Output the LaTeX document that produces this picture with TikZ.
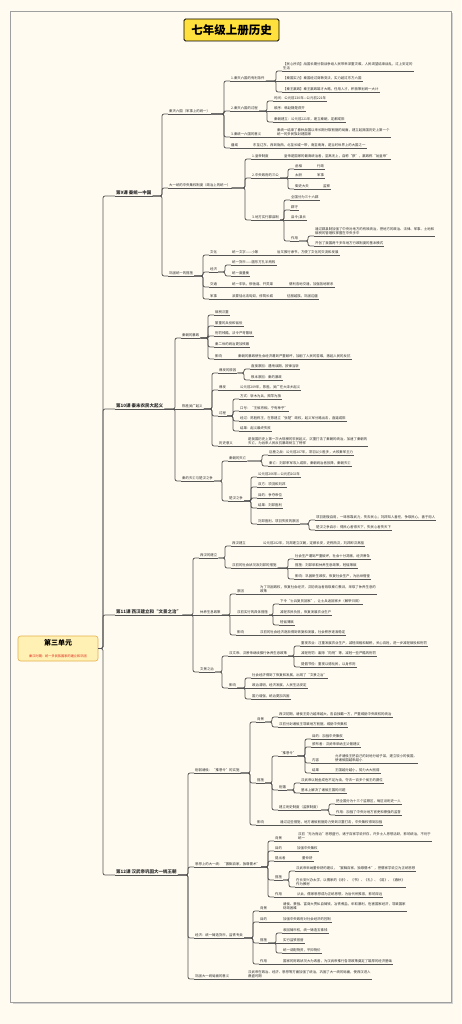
\documentclass[tikz,border=0pt]{standalone}
\usepackage{fontspec}
\newfontfamily\cjk{Noto Sans CJK SC}
\definecolor{bgc}{HTML}{FFFBF1}
\definecolor{lnc}{HTML}{555555}
\definecolor{txt}{HTML}{2E2E2E}
\definecolor{ttl}{HTML}{FFE03C}
\definecolor{rootf}{HTML}{FFF0B3}
\definecolor{rootd}{HTML}{E3B04B}
\definecolor{redt}{HTML}{E0281E}
\tikzset{
  ul/.style={draw=lnc, line width=0.75pt},
  conn/.style={draw=lnc, line width=0.75pt, rounded corners=2pt},
  n/.style={anchor=south west, inner xsep=1pt, inner ysep=0.7pt, text=txt, align=left,
    font=\cjk\fontsize{3.4}{4.4}\selectfont,
    append after command={(\tikzlastnode.south west) edge[ul] (\tikzlastnode.south east)}},
  chap/.style={n, font=\cjk\bfseries\fontsize{4.5}{5.5}\selectfont},
}
\newcommand\lk[2]{\draw[conn] (#1.south east) -| ([xshift=-6pt]#2.south west) -- (#2.south west);}
\newcommand\sk[2]{\draw[conn] (#1.south east) -- (#2.south west);}
\newcommand\rk[1]{\draw[conn] (root.east) -| ([xshift=-12pt]#1.south west) -- (#1.south west);}
\begin{document}
\begin{tikzpicture}[x=1pt,y=-1pt]
\useasboundingbox (0,0) rectangle (461,1024);
\fill[bgc] (0,0) rectangle (461,1024);
\draw[gray!35, line width=1.2pt] (12.5,1003.5) -- (452.5,1003.5) -- (452.5,13.5);
\draw[gray!75, line width=0.9pt] (10,11) rectangle (451,1002);

\node[draw=black, line width=0.8pt, fill=ttl, rounded corners=1.5pt, minimum width=95pt, minimum height=22pt, inner sep=0pt, font=\cjk\bfseries\fontsize{11.5}{12}\selectfont] (title) at (231.5,30) {七年级上册历史};

\node[draw=rootd, fill=rootf, line width=0.6pt, rounded corners=2.5pt, minimum width=80pt, minimum height=25pt, inner sep=1pt, align=center] (root) at (58,648.5) {{\cjk\bfseries\fontsize{7}{8.5}\selectfont 第三单元}\\[0.5pt]{\cjk\fontsize{3.2}{4}\selectfont\color{redt}秦汉时期：统一多民族国家的建立和巩固}};

% chapters
\node[chap] (c9) at (115,196) {第9课 秦统一中国};
\node[chap] (c10) at (115,409) {第10课 秦末农民大起义};
\node[chap] (c11) at (115,615) {第11课 西汉建立和“文景之治”};
\node[chap] (c12) at (115,875) {第12课 汉武帝巩固大一统王朝};

% ---------- chapter 9
\node[n] (a1) at (168,114) {秦灭六国（军事上的统一）};
\node[n] (a1a) at (230,81) {1.秦灭六国的有利条件};
\node[n] (a1a1) at (282,71) {【民心所向】战国长期分裂战争给人民带来深重灾难，人民渴望结束战乱，过上安定的\\生活};
\node[n] (a1a2) at (282,81) {【秦国实力】秦国经过商鞅变法，实力超过东方六国};
\node[n] (a1a3) at (282,92) {【秦王嬴政】秦王嬴政雄才大略，任用人才，积极策划统一大计};
\node[n] (a1b) at (230,111) {2.秦灭六国的过程};
\node[n] (a1b1) at (273,101) {时间：公元前230年—公元前221年};
\node[n] (a1b2) at (273,111) {顺序：韩赵魏楚燕齐};
\node[n] (a1b3) at (273,122) {秦朝建立：公元前221年，建立秦朝，定都咸阳};
\node[n] (a1c) at (230,137) {3.秦统一六国的意义};
\node[n] (a1c1) at (276,137) {秦统一结束了春秋战国以来长期分裂割据的局面，建立起我国历史上第一个\\统一的多民族封建国家};
\node[n] (a1d) at (230,148) {疆域};
\node[n] (a1d1) at (252,148) {东至辽东，西到陇西，北至长城一带，南至南海，是当时世界上的大国之一};

\node[n] (a2) at (168,188) {大一统的中央集权制度（政治上的统一）};
\node[n] (a2a) at (251,159) {1.皇帝制度};
\node[n] (a2a1) at (283,159) {皇帝是国家的最高统治者，至高无上，自称“朕”，嬴政称“始皇帝”};
\node[n] (a2b) at (251,178) {2.中央政府的三公};
\node[n] (a2b1) at (294,169) {丞相};
\node[n] (a2b1x) at (316,169) {行政};
\node[n] (a2b2) at (294,178) {太尉};
\node[n] (a2b2x) at (316,178) {军事};
\node[n] (a2b3) at (294,189) {御史大夫};
\node[n] (a2b3x) at (322,189) {监察};
\node[n] (a2c) at (251,220) {3.地方实行郡县制};
\node[n] (a2c1) at (290,200) {全国分为三十六郡};
\node[n] (a2c2) at (290,210) {郡守};
\node[n] (a2c3) at (290,220) {县令/县长};
\node[n] (a2c4) at (290,241) {作用};
\node[n] (a2c41) at (314,236) {通过郡县制加强了中央对地方的有效统治，把地方的政治、法律、军事、土地和\\赋税的管理权掌握在中央手中};
\node[n] (a2c42) at (314,246) {开创了我国两千多年地方行政制度的基本模式};

\node[n] (a3) at (168,276) {巩固统一的措施};
\node[n] (a3a) at (209,255) {文化};
\node[n] (a3a1) at (231,255) {统一文字——小篆};
\node[n] (a3a2) at (276,255) {后又推行隶书，方便了文化的交流和发展};
\node[n] (a3b) at (209,272) {经济};
\node[n] (a3b1) at (231,265) {统一货币——圆形方孔半两钱};
\node[n] (a3b2) at (231,276) {统一度量衡};
\node[n] (a3c) at (209,287) {交通};
\node[n] (a3c1) at (231,287) {统一车轨，修驰道、开灵渠};
\node[n] (a3c2) at (288,287) {便利各地交通，加强各地联系};
\node[n] (a3d) at (209,299) {军事};
\node[n] (a3d1) at (231,299) {派蒙恬北击匈奴，修筑长城};
\node[n] (a3d2) at (286,299) {征服越族，巩固边疆};

% ---------- chapter 10
\node[n] (b1) at (181,338) {秦朝的暴政};
\node[n] (b1a) at (214,315) {赋税沉重};
\node[n] (b1b) at (214,326) {繁重的兵役和徭役};
\node[n] (b1c) at (214,336) {刑罚残酷，法令严苛繁琐};
\node[n] (b1d) at (214,347) {秦二世的统治更加残暴};
\node[n] (b1e) at (214,359) {影响};
\node[n] (b1e1) at (237,359) {秦朝的暴政使社会经济遭到严重破坏，加剧了人民的苦难，激起人民的反抗};

\node[n] (b2) at (181,409) {陈胜吴广起义};
\node[n] (b2a) at (218,373) {爆发的原因};
\node[n] (b2a1) at (250,369) {直接原因：遇雨误期，按律当斩};
\node[n] (b2a2) at (250,380) {根本原因：秦的暴政};
\node[n] (b2b) at (218,390) {爆发};
\node[n] (b2b1) at (239,390) {公元前209年，陈胜、吴广在大泽乡起义};
\node[n] (b2c) at (218,416) {过程};
\node[n] (b2c1) at (239,399) {方式：斩木为兵，揭竿为旗};
\node[n] (b2c2) at (239,411) {口号：“王侯将相，宁有种乎”};
\node[n] (b2c3) at (239,421) {经过：陈胜称王，在陈建立“张楚”政权，起义军分路出击，直逼咸阳};
\node[n] (b2c4) at (239,431) {结果：起义最终失败};
\node[n] (b2d) at (218,446) {历史意义};
\node[n] (b2d1) at (247,446) {是我国历史上第一次大规模的农民起义，沉重打击了秦朝的统治，加速了秦朝的\\灭亡，为后来人民反抗暴政树立了榜样};

\node[n] (b3) at (181,481) {秦的灭亡与楚汉之争};
\node[n] (b3a) at (228,461) {秦朝的灭亡};
\node[n] (b3a1) at (268,455) {巨鹿之战：公元前207年，项羽以少胜多，大败秦军主力};
\node[n] (b3a2) at (268,466) {秦亡：刘邦率军攻入咸阳，秦朝统治者投降，秦朝灭亡};
\node[n] (b3b) at (228,501) {楚汉之争};
\node[n] (b3b1) at (257,477) {公元前206年—公元前202年};
\node[n] (b3b2) at (257,487) {双方：项羽和刘邦};
\node[n] (b3b3) at (257,498) {目的：争夺帝位};
\node[n] (b3b4) at (257,508) {结果：刘邦胜利};
\node[n] (b3b5) at (257,524) {刘邦胜利、项羽失败的原因};
\node[n] (b3b51) at (315,520) {项羽刚愎自用，一味依靠武力，失去民心；刘邦知人善任，争取民心，善于用人};
\node[n] (b3b52) at (315,530) {楚汉之争启示：得民心者得天下，失民心者失天下};

% ---------- chapter 11
\node[n] (c1) at (199,558) {西汉的建立};
\node[n] (c1a) at (231,546) {西汉建立};
\node[n] (c1a1) at (262,546) {公元前202年，刘邦建立汉朝，定都长安，史称西汉，刘邦即汉高祖};
\node[n] (c1b) at (231,568) {汉初的社会状况及刘邦的措施};
\node[n] (c1b1) at (294,559) {社会生产遭到严重破坏，社会十分凋敝，经济萧条};
\node[n] (c1b2) at (294,568) {措施：刘邦采取休养生息政策，轻徭薄赋};
\node[n] (c1b3) at (294,579) {影响：巩固新生政权，恢复社会生产，为后世借鉴};

\node[n] (c2) at (199,615) {休养生息政策};
\node[n] (c2a) at (236,594) {原因};
\node[n] (c2a1) at (259,594) {为了巩固政权，恢复社会经济，汉初统治者吸取秦亡教训，采取了休养生息的\\政策};
\node[n] (c2b) at (236,615) {汉初实行的具体措施};
\node[n] (c2b1) at (279,604) {下令“士兵复员回家”，让士兵返回家乡（解甲归田）};
\node[n] (c2b2) at (279,615) {减轻农民负担，恢复发展农业生产};
\node[n] (c2b3) at (279,625) {轻徭薄赋};
\node[n] (c2c) at (236,635) {影响};
\node[n] (c2c1) at (259,635) {汉初的社会经济逐渐得到恢复和发展，社会秩序逐渐稳定};

\node[n] (c3) at (199,672) {文景之治};
\node[n] (c3a) at (228,656) {汉文帝、汉景帝继续推行休养生息政策};
\node[n] (c3a1) at (300,646) {重视农业：注重发展农业生产，减轻田租和赋税，关心百姓，进一步减轻赋役和刑罚};
\node[n] (c3a2) at (300,656) {减轻刑罚：废除“肉刑”等，减轻一些严酷的刑罚};
\node[n] (c3a3) at (300,667) {提倡节俭：重视以德化民，以身作则};
\node[n] (c3b) at (228,688) {影响};
\node[n] (c3b1) at (251,678) {社会经济得到了恢复和发展，出现了“文景之治”};
\node[n] (c3b2) at (251,688) {政治清明，经济发展，人民生活安定};
\node[n] (c3b3) at (251,699) {国力增强，统治更加巩固};

% ---------- chapter 12
\node[n] (d1) at (194,773) {削弱诸侯：“推恩令”的实施};
\node[n] (d1a) at (256,722) {背景};
\node[n] (d1a1) at (278,717) {西汉初期，诸侯王势力越来越大，各自独霸一方，严重威胁中央政权的统治};
\node[n] (d1a2) at (278,727) {汉初分封诸侯王导致地方割据，威胁中央集权};
\node[n] (d1b) at (256,783) {措施};
\node[n] (d1b1) at (278,756) {“推恩令”};
\node[n] (d1b11) at (311,739) {目的：加强中央集权};
\node[n] (d1b12) at (311,747) {颁布者：汉武帝采纳主父偃建议};
\node[n] (d1b13) at (311,763) {内容};
\node[n] (d1b131) at (334,763) {允许诸侯王把自己的封地分给子弟，建立较小的侯国，\\使诸侯国越来越小};
\node[n] (d1b14) at (311,773) {结果};
\node[n] (d1b141) at (334,773) {王国越分越小，势力大大削弱};
\node[n] (d1b2) at (278,790) {削藩};
\node[n] (d1b21) at (300,783) {汉武帝以酎金成色不足为由，夺去一百多个侯王的爵位};
\node[n] (d1b22) at (300,793) {基本上解决了诸侯王国的问题};
\node[n] (d1b3) at (278,810) {建立刺史制度（监察制度）};
\node[n] (d1b31) at (335,804) {把全国分为十三个监察区，每区设刺史一人};
\node[n] (d1b32) at (335,815) {作用：加强了中央对地方官吏和豪强的监督};
\node[n] (d1c) at (256,825) {影响};
\node[n] (d1c1) at (279,825) {通过这些措施，地方诸侯割据势力受到沉重打击，中央集权得到加强};

\node[n] (d2) at (194,867) {思想上的大一统：“罢黜百家，独尊儒术”};
\node[n] (d2a) at (274,841) {背景};
\node[n] (d2a1) at (297,841) {汉初“无为而治”思想盛行，诸子百家学说并存，许多士人思想活跃，影响统治，不利于\\统一};
\node[n] (d2b) at (274,851) {目的};
\node[n] (d2b1) at (296,851) {加强中央集权};
\node[n] (d2c) at (274,861) {提出者};
\node[n] (d2c1) at (301,861) {董仲舒};
\node[n] (d2d) at (274,880) {措施};
\node[n] (d2d1) at (295,871) {汉武帝采纳董仲舒的建议，“罢黜百家，独尊儒术”，把儒家学说立为正统思想};
\node[n] (d2d2) at (295,887) {在长安兴办太学，以儒家的《诗》、《书》、《礼》、《易》、《春秋》\\作为教材};
\node[n] (d2e) at (274,897) {作用};
\node[n] (d2e1) at (296,897) {从此，儒家思想成为正统思想，为后代所推崇，影响深远};

\node[n] (d3) at (194,938) {经济：统一铸造货币，盐铁专卖};
\node[n] (d3a) at (259,911) {背景};
\node[n] (d3a1) at (282,911) {诸侯、豪强、富商大贾私自铸钱，冶铁煮盐，牟取暴利，危害国家经济，导致国家\\财政困难};
\node[n] (d3b) at (259,922) {目的};
\node[n] (d3b1) at (282,922) {加强中央政府对社会经济的控制};
\node[n] (d3c) at (259,943) {措施};
\node[n] (d3c1) at (282,933) {收回铸币权，统一铸造五铢钱};
\node[n] (d3c2) at (282,943) {实行盐铁官营};
\node[n] (d3c3) at (282,953) {统一调配物资，平抑物价};
\node[n] (d3d) at (259,964) {作用};
\node[n] (d3d1) at (282,964) {国家的财政状况大为改善，为汉武帝推行各项政策奠定了雄厚的经济基础};

\node[n] (d4) at (194,979) {巩固大一统局面的意义};
\node[n] (d4a) at (247,979) {汉武帝在政治、经济、思想等方面加强了统治，巩固了大一统的局面，使西汉进入\\鼎盛时期};

% ---------- connectors
\rk{c9} \rk{c10} \rk{c11} \rk{c12}

\lk{c9}{a1} \lk{c9}{a2} \lk{c9}{a3}
\lk{a1}{a1a} \lk{a1}{a1b} \lk{a1}{a1c} \lk{a1}{a1d}
\lk{a1a}{a1a1} \sk{a1a}{a1a2} \lk{a1a}{a1a3}
\lk{a1b}{a1b1} \sk{a1b}{a1b2} \lk{a1b}{a1b3}
\sk{a1c}{a1c1} \sk{a1d}{a1d1}
\lk{a2}{a2a} \lk{a2}{a2b} \lk{a2}{a2c}
\sk{a2a}{a2a1}
\lk{a2b}{a2b1} \sk{a2b}{a2b2} \lk{a2b}{a2b3}
\sk{a2b1}{a2b1x} \sk{a2b2}{a2b2x} \sk{a2b3}{a2b3x}
\lk{a2c}{a2c1} \lk{a2c}{a2c2} \sk{a2c}{a2c3} \lk{a2c}{a2c4}
\lk{a2c4}{a2c41} \lk{a2c4}{a2c42}
\lk{a3}{a3a} \lk{a3}{a3b} \lk{a3}{a3c} \lk{a3}{a3d}
\sk{a3a}{a3a1} \sk{a3a1}{a3a2}
\lk{a3b}{a3b1} \lk{a3b}{a3b2}
\sk{a3c}{a3c1} \sk{a3c1}{a3c2}
\sk{a3d}{a3d1} \sk{a3d1}{a3d2}

\lk{c10}{b1} \sk{c10}{b2} \lk{c10}{b3}
\lk{b1}{b1a} \lk{b1}{b1b} \lk{b1}{b1c} \lk{b1}{b1d} \lk{b1}{b1e} \sk{b1e}{b1e1}
\lk{b2}{b2a} \lk{b2}{b2b} \lk{b2}{b2c} \lk{b2}{b2d}
\lk{b2a}{b2a1} \lk{b2a}{b2a2} \sk{b2b}{b2b1}
\lk{b2c}{b2c1} \lk{b2c}{b2c2} \lk{b2c}{b2c3} \lk{b2c}{b2c4}
\sk{b2d}{b2d1}
\lk{b3}{b3a} \lk{b3}{b3b}
\lk{b3a}{b3a1} \lk{b3a}{b3a2}
\lk{b3b}{b3b1} \lk{b3b}{b3b2} \lk{b3b}{b3b3} \lk{b3b}{b3b4} \lk{b3b}{b3b5}
\lk{b3b5}{b3b51} \lk{b3b5}{b3b52}

\lk{c11}{c1} \sk{c11}{c2} \lk{c11}{c3}
\lk{c1}{c1a} \lk{c1}{c1b} \sk{c1a}{c1a1}
\lk{c1b}{c1b1} \sk{c1b}{c1b2} \lk{c1b}{c1b3}
\lk{c2}{c2a} \sk{c2}{c2b} \lk{c2}{c2c}
\sk{c2a}{c2a1}
\lk{c2b}{c2b1} \sk{c2b}{c2b2} \lk{c2b}{c2b3}
\sk{c2c}{c2c1}
\lk{c3}{c3a} \lk{c3}{c3b}
\lk{c3a}{c3a1} \sk{c3a}{c3a2} \lk{c3a}{c3a3}
\lk{c3b}{c3b1} \sk{c3b}{c3b2} \lk{c3b}{c3b3}

\lk{c12}{d1} \lk{c12}{d2} \lk{c12}{d3} \lk{c12}{d4}
\lk{d1}{d1a} \lk{d1}{d1b} \lk{d1}{d1c}
\lk{d1a}{d1a1} \lk{d1a}{d1a2}
\lk{d1b}{d1b1} \lk{d1b}{d1b2} \lk{d1b}{d1b3}
\lk{d1b1}{d1b11} \lk{d1b1}{d1b12} \lk{d1b1}{d1b13} \lk{d1b1}{d1b14}
\sk{d1b13}{d1b131} \sk{d1b14}{d1b141}
\lk{d1b2}{d1b21} \lk{d1b2}{d1b22}
\lk{d1b3}{d1b31} \lk{d1b3}{d1b32}
\sk{d1c}{d1c1}
\lk{d2}{d2a} \lk{d2}{d2b} \lk{d2}{d2c} \lk{d2}{d2d} \lk{d2}{d2e}
\sk{d2a}{d2a1} \sk{d2b}{d2b1} \sk{d2c}{d2c1}
\lk{d2d}{d2d1} \lk{d2d}{d2d2} \sk{d2e}{d2e1}
\lk{d3}{d3a} \lk{d3}{d3b} \lk{d3}{d3c} \lk{d3}{d3d}
\sk{d3a}{d3a1} \sk{d3b}{d3b1}
\lk{d3c}{d3c1} \sk{d3c}{d3c2} \lk{d3c}{d3c3}
\sk{d3d}{d3d1}
\sk{d4}{d4a}
\end{tikzpicture}
\end{document}
